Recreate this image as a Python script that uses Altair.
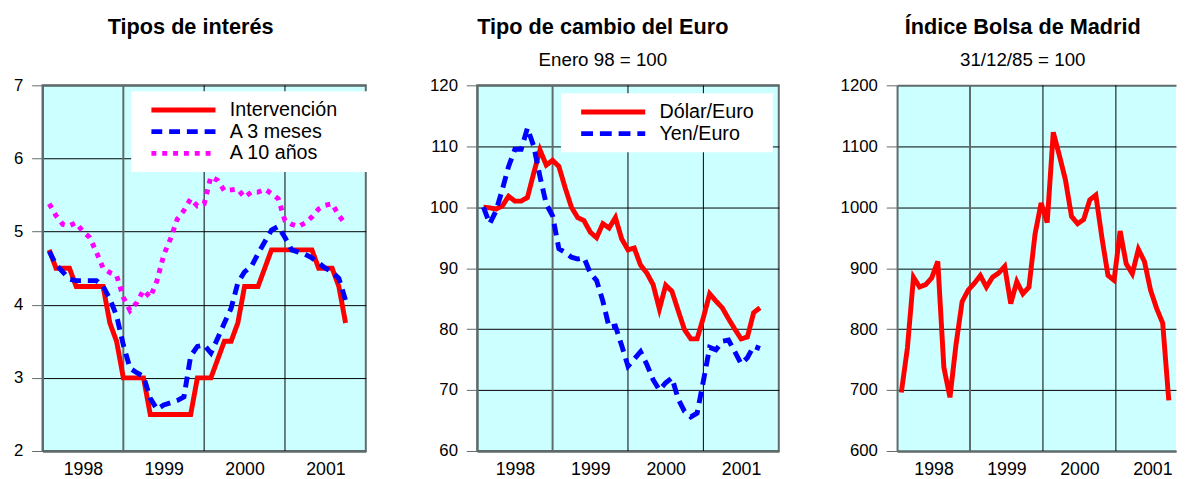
import altair as alt
import pandas as pd

FONT = "Liberation Sans"
GRAY = "#5f6b6b"
CYAN = "#CCFFFF"
NBSP = "\u00a0"
ZWSP = "\u200b"

# Monthly observations, January 1998 .. September 2001 (index 0..44)
meses = list(range(45))

# Panel 1: Tipos de interés (%)
intervencion = [4.75, 4.5, 4.5, 4.5, 4.25, 4.25, 4.25, 4.25, 4.25, 3.75, 3.5, 3.0,
                3.0, 3.0, 3.0, 2.5, 2.5, 2.5, 2.5, 2.5, 2.5, 2.5, 3.0, 3.0,
                3.0, 3.25, 3.5, 3.5, 3.75, 4.25, 4.25, 4.25, 4.5, 4.75, 4.75, 4.75,
                4.75, 4.75, 4.75, 4.75, 4.5, 4.5, 4.5, 4.25, 3.75]
tres_meses = [4.73, 4.55, 4.45, 4.35, 4.33, 4.33, 4.33, 4.33, 4.25, 4.08, 3.85, 3.45,
              3.13, 3.07, 3.02, 2.72, 2.57, 2.63, 2.66, 2.69, 2.74, 3.30, 3.43, 3.45,
              3.34, 3.54, 3.75, 3.95, 4.30, 4.45, 4.52, 4.70, 4.86, 5.02, 5.07, 4.92,
              4.75, 4.72, 4.69, 4.64, 4.57, 4.50, 4.45, 4.36, 4.06]
diez_anos = [5.38, 5.22, 5.10, 5.08, 5.12, 5.00, 4.92, 4.72, 4.50, 4.44, 4.40, 4.10,
             3.92, 4.03, 4.20, 4.10, 4.33, 4.68, 4.90, 5.17, 5.29, 5.45, 5.35, 5.38,
             5.75, 5.70, 5.56, 5.57, 5.58, 5.47, 5.54, 5.54, 5.58, 5.52, 5.45, 5.15,
             5.10, 5.07, 5.12, 5.20, 5.31, 5.36, 5.38, 5.22, 5.10]

# Panel 2: Tipo de cambio del Euro (Enero 98 = 100)
dolar_euro = [100.0, 99.9, 99.7, 100.2, 101.8, 101.0, 101.0, 101.6, 105.6, 109.4, 106.9, 107.7,
              106.7, 103.2, 100.0, 98.3, 97.8, 95.9, 95.0, 97.3, 96.6, 98.3, 94.8, 93.0,
              93.3, 90.5, 89.2, 87.3, 83.3, 87.2, 86.2, 83.0, 79.9, 78.4, 78.4, 81.9,
              85.8, 84.6, 83.5, 81.7, 80.0, 78.4, 78.7, 82.7, 83.5]
yen_euro = [100.0, 97.3, 99.4, 102.9, 106.7, 109.5, 109.5, 113.0, 110.0, 105.0, 100.5, 98.6,
            93.2, 92.6, 91.8, 91.5, 91.7, 89.2, 88.0, 84.6, 80.3, 80.5, 77.3, 73.9,
            75.1, 76.3, 74.2, 71.7, 70.0, 71.2, 72.0, 68.5, 66.5, 65.6, 66.2, 71.5,
            77.0, 76.6, 78.0, 78.2, 76.3, 74.3, 75.3, 77.2, 76.8]

# Panel 3: Índice Bolsa de Madrid (31/12/85 = 100)
bolsa_madrid = [696, 769, 885, 869, 873, 884, 911, 737, 688, 775, 845, 864,
                875, 888, 869, 885, 892, 903, 842, 878, 858, 869, 956, 1007,
                975, 1123, 1085, 1045, 985, 973, 980, 1012, 1020, 950, 888, 880,
                961, 907, 891, 931, 911, 864, 834, 810, 683]

anios_grid = [1999, 2000, 2001]
anios_etiqueta = [1998.5, 1999.5, 2000.5, 2001.5]

series1 = ["Intervención", "A 3 meses", "A 10 años"]
colores1 = ["#FF0000", "#0000FF", "#FF00FF"]
trazos1 = [[1, 0], [11, 7], [5, 6]]

series2 = ["Dólar/Euro", "Yen/Euro"]
colores2 = ["#FF0000", "#0000FF"]
trazos2 = [[1, 0], [12, 7]]


def long_df(names, arrays):
    rows = []
    for name, arr in zip(names, arrays):
        for m, v in zip(meses, arr):
            rows.append({"mes": m, "valor": v, "serie": name})
    return pd.DataFrame(rows)


df1 = long_df(series1, [intervencion, tres_meses, diez_anos])
df2 = long_df(series2, [dolar_euro, yen_euro])
df3 = long_df(["Bolsa"], [bolsa_madrid])


def make_panel(df, x_off, x_max, y_dom, y_step, width, ext, title, subtitle,
               series=None, colors=None, dashes=None, legend_xy=None, label_pad=0,
               title_dx=0, view_stroke=True):
    x_scale = alt.Scale(domain=[1998, x_max], nice=False, zero=False)
    y_scale = alt.Scale(domain=y_dom, nice=False, zero=False)
    y_vals = list(range(y_dom[0], y_dom[1] + 1, y_step))
    edge = f"datum.value == {y_dom[1]} || datum.value == {y_dom[0]}"
    x_axis = alt.Axis(values=anios_etiqueta, labelExpr="'' + floor(datum.value)",
                      grid=False, ticks=False, domain=True, domainColor=GRAY,
                      domainWidth=2, title=None, labelFontSize=18, labelFont=FONT,
                      labelColor="black", labelPadding=10, labelAngle=0)
    y_axis = alt.Axis(values=y_vals, title=None, grid=True, format="d",
                      gridColor=alt.condition(edge, alt.value(GRAY), alt.value("black")),
                      gridWidth=alt.condition(edge, alt.value(2), alt.value(1)),
                      gridOpacity=1, domainColor=GRAY, domainWidth=2,
                      tickColor=GRAY, tickSize=11, tickWidth=1, labelFontSize=17,
                      labelFont=FONT, labelColor="black", labelPadding=9,
                      minExtent=ext, maxExtent=ext)

    rules = alt.Chart(pd.DataFrame({"anio": [a for a in anios_grid if a < x_max]})).mark_rule().encode(
        x=alt.X("anio:Q", scale=x_scale, axis=x_axis),
        color=alt.condition("datum.anio == 1999", alt.value(GRAY), alt.value("black")),
        strokeWidth=alt.condition("datum.anio == 1999", alt.value(2), alt.value(1)),
    )

    base = alt.Chart(df).transform_calculate(
        fecha=f"1998 + (datum.mes + {x_off}) / 12"
    ).mark_line(strokeWidth=5, clip=True)

    if series is not None:
        pad = NBSP * label_pad + ZWSP
        leg = alt.Legend(orient="none", legendX=legend_xy[0], legendY=legend_xy[1],
                         fillColor="white", padding=8, clipHeight=22, rowPadding=0,
                         symbolType="stroke", symbolSize=4225, symbolStrokeWidth=5,
                         symbolOffset=10, labelOffset=12, labelFontSize=20,
                         labelFont=FONT, labelColor="black", title=None,
                         labelExpr=f"datum.label + '{pad}'")
        lines = base.encode(
            x=alt.X("fecha:Q", scale=x_scale, axis=x_axis),
            y=alt.Y("valor:Q", scale=y_scale, axis=y_axis),
            color=alt.Color("serie:N", scale=alt.Scale(domain=series, range=colors), legend=leg),
            strokeDash=alt.StrokeDash("serie:N", scale=alt.Scale(domain=series, range=dashes), legend=leg),
        )
    else:
        lines = base.encode(
            x=alt.X("fecha:Q", scale=x_scale, axis=x_axis),
            y=alt.Y("valor:Q", scale=y_scale, axis=y_axis),
            color=alt.value("#FF0000"),
        )

    view = alt.ViewBackground(fill=CYAN, stroke=GRAY if view_stroke else "transparent",
                              strokeWidth=2)
    return alt.layer(rules, lines).properties(
        width=width, height=371, view=view,
        title=alt.TitleParams(text=title, subtitle=subtitle, fontSize=22, font=FONT,
                              fontWeight="bold", color="black", subtitleFontSize=19,
                              subtitleFont=FONT, subtitleColor="black",
                              subtitlePadding=12, offset=6, anchor="middle",
                              frame="bounds", dx=title_dx),
    )


p1 = make_panel(df1, 1, 2002, [2, 7], 1, 328, 29, "Tipos de interés", " ",
                series1, colores1, trazos1, (90, 6), 4)
p2 = make_panel(df2, 1, 2002, [60, 120], 10, 306, 51, "Tipo de cambio del Euro", "Enero 98 = 100",
                series2, colores2, trazos2, (85, 8), 2)
p3 = make_panel(df3, 0.7, 1998 + 283 / 74, [600, 1200], 100, 283, 60,
                "Índice Bolsa de Madrid", "31/12/85 = 100", title_dx=16, view_stroke=False)

chart = alt.hconcat(p1, p2, p3, spacing=58).resolve_scale(
    x="independent", y="independent", color="independent", strokeDash="independent"
).resolve_legend(color="independent", strokeDash="independent").properties(
    padding={"left": 4, "top": 4, "right": 0, "bottom": 0}
).configure(background="white").configure_view(stroke=GRAY)

chart.save("out.html", embed_options={"renderer": "svg", "actions": False})
